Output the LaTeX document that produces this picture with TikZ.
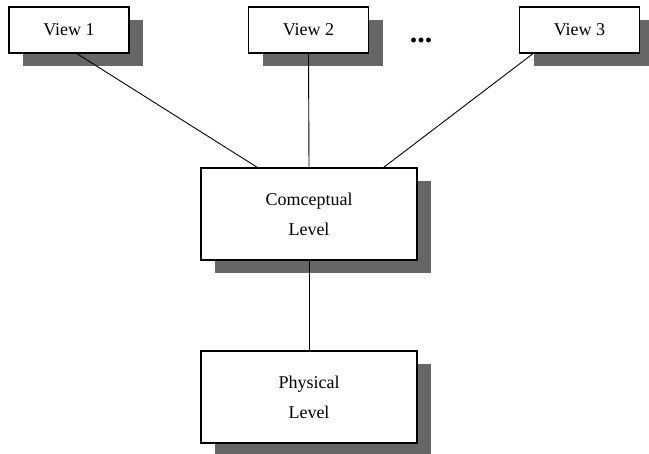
\documentclass[tikz,border=0pt]{standalone}
\usepackage{fontspec}
\setmainfont{Liberation Serif}
\usetikzlibrary{shadows}

\tikzset{
	levelbox/.style={draw, line width=1.6pt, fill=white, align=center,
		font=\fontsize{18}{30}\selectfont,
		drop shadow={shadow xshift=14pt, shadow yshift=-13pt, fill=black!60, opacity=1}},
	viewbox/.style={levelbox, minimum width=120pt, minimum height=46pt},
	bigbox/.style={levelbox, minimum width=216pt, minimum height=92pt},
	link/.style={line width=0.9pt}
}

\begin{document}
\begin{tikzpicture}[x=1pt, y=-1pt]
		\useasboundingbox (0,0) rectangle (649,454);

		\node[viewbox] (v1) at (69,30) {View 1};
		\node[viewbox] (v2) at (308.5,30) {View 2};
		\node[viewbox] (v3) at (579.5,30) {View 3};
		\node[anchor=base, inner sep=0pt, font=\fontsize{30}{30}\selectfont\bfseries] (dots) at (421,43) {...};

		\node[bigbox] (cl) at (309,214) {Comceptual\\Level};
		\node[bigbox] (pl) at (309,397) {Physical\\Level};

		\draw[link] (v1.-71) -- (cl.138);
		\draw[link] (v2.south) -- (cl.north);
		\draw[link] (v3.207) -- (cl.32);
		\draw[link] (cl.south) -- (pl.north);
	\end{tikzpicture}
\end{document}
